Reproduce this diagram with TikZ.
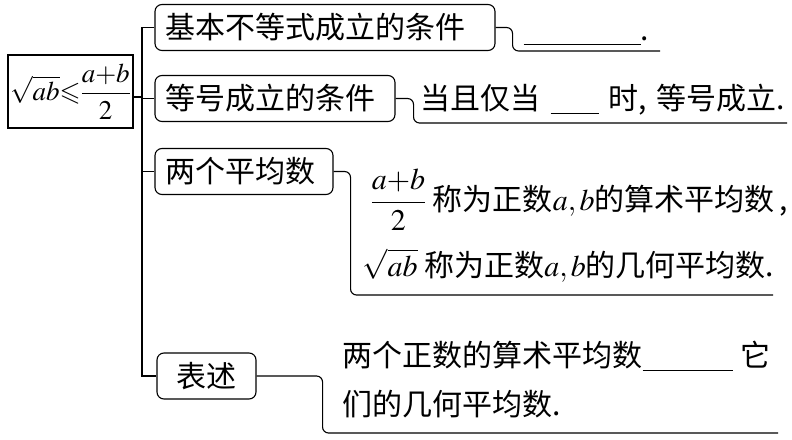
\documentclass[tikz,border=0pt]{standalone}
\usepackage{amsmath,amssymb}
\usepackage{mathptmx}
\usepackage[no-math]{fontspec}
\setmainfont{Noto Sans CJK SC}
\newcommand{\fillblank}[1]{\rule[-5pt]{#1}{1.2pt}}
\newcommand{\mth}[1]{$\medmuskip=0mu\thickmuskip=0mu #1$}
\begin{document}
\begin{tikzpicture}[x=1pt, y=-1pt, line width=1.1pt,
    main/.style = {draw, rounded corners=7pt, minimum height=46pt, inner xsep=10pt, align=left, font=\fontsize{30}{36}\selectfont},
    root/.style = {draw, minimum width=125pt, minimum height=73pt, inner sep=1pt, font=\fontsize{27}{32}\selectfont},
    txt/.style = {anchor=base west, inner sep=0pt, font=\fontsize{30}{36}\selectfont},
    link/.style = {rounded corners=6pt}]
    \useasboundingbox (0,0) rectangle (792,439);
    \node[root] (0) at (70.5,91.5) {\mth{\sqrt{ab}\leqslant\dfrac{a+b}{2}}};
    \node[main, text width=320pt] (1) at (325,27.5) {基本不等式成立的条件};
    \node[main, text width=220pt] (2) at (275,98.5) {等号成立的条件};
    \node[main, text width=158pt] (3) at (244,171.5) {两个平均数};
    \node[main, text width=79pt, align=center] (4) at (206.5,376) {表述};

    \node[txt] (t1) at (523,40) {\fillblank{117pt}.};
    \node[txt] (t2) at (420,109) {当且仅当\hspace{10pt}\fillblank{48pt}\hspace{10pt}时,\hspace{10pt}等号成立.};
    \node[txt] (t3a) at (370,210) {\mth{\dfrac{a+b}{2}} 称为正数\mth{a,b}的算术平均数\hspace{5pt},};
    \node[txt] (t3b) at (362,276) {\mth{\sqrt{ab}} 称为正数\mth{a,b}的几何平均数.};
    \node[txt] (t4a) at (342,366) {两个正数的算术平均数\fillblank{90pt}\hspace{8pt}它};
    \node[txt] (t4b) at (342,415) {们的几何平均数.};

    \coordinate (c) at (142,97);
    \coordinate (u1) at (660,51);
    \coordinate (u2) at (787,123);
    \coordinate (u3) at (773,295);
    \coordinate (u4) at (778,433);

    \draw (0.east |- c) -- (c);
    \draw (1.west) -| (c) |- (4.west);
    \draw (c |- 2.west) -- (2.west);
    \draw (c |- 3.west) -- (3.west);
    \draw[link] (1.east) -- ++(17,0) |- (u1);
    \draw[link] (2.east) -- ++(18,0) |- (u2);
    \draw[link] (3.east) -- ++(17,0) |- (u3);
    \draw[link] (4.east) -- ++(66,0) |- (u4);
\end{tikzpicture}
\end{document}
